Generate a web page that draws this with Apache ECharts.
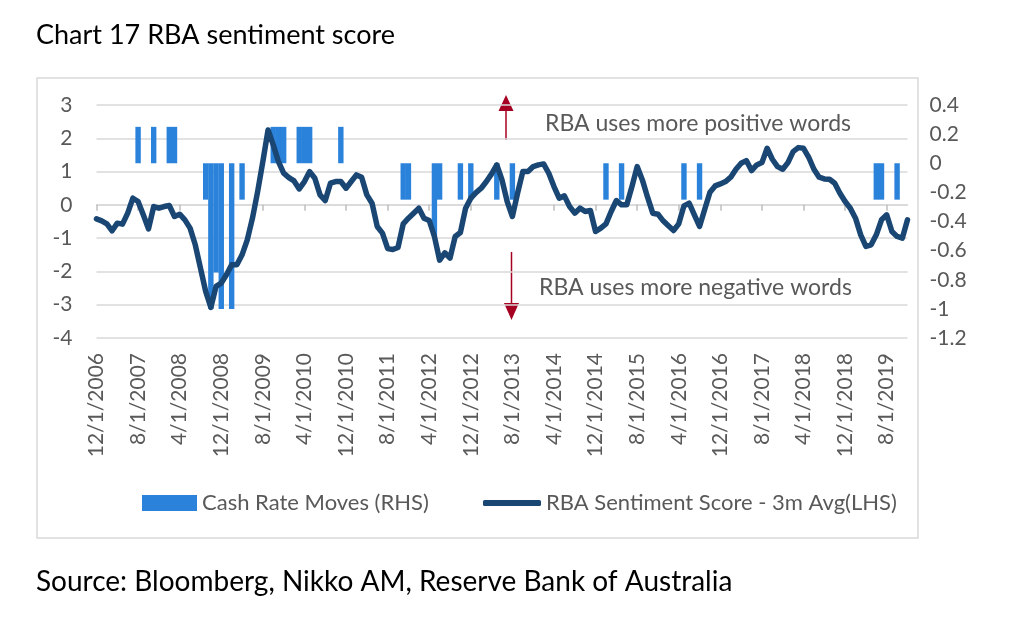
<!DOCTYPE html>
<html>
<head>
<meta charset="utf-8">
<script src="https://cdn.jsdelivr.net/npm/echarts@6/dist/echarts.min.js"></script>
<style>
  html, body { margin: 0; padding: 0; background: #fff; }
  #chart { width: 1024px; height: 622px; }
</style>
</head>
<body>
<div id="chart"></div>
<script>
// monthly categories, Dec 2006 .. Dec 2019
const startYear = 2006
const startMonth = 12
const monthCount = 157
const months = []
for (let i = 0; i < monthCount; i++) {
  let m = (startMonth - 1 + i) % 12 + 1
  let y = startYear + Math.floor((startMonth - 1 + i) / 12)
  months.push(m + '/1/' + y)
}

// RBA sentiment score, 3m avg (LHS)
const sentiment = [
  -0.42, -0.48, -0.57, -0.78, -0.55, -0.58, -0.25, 0.2, 0.1, -0.3,
  -0.72, -0.05, -0.1, -0.05, -0.02, -0.35, -0.28, -0.45, -0.7, -1.2,
  -1.9, -2.6, -3.08, -2.45, -2.35, -2.1, -1.8, -1.8, -1.5, -1.05,
  -0.4, 0.4, 1.3, 2.25, 1.8, 1.3, 0.95, 0.82, 0.72, 0.48,
  0.7, 1.0, 0.8, 0.3, 0.13, 0.65, 0.7, 0.7, 0.5, 0.7,
  0.9, 0.83, 0.3, 0.05, -0.65, -0.85, -1.31, -1.34, -1.28, -0.57,
  -0.4, -0.25, -0.1, -0.4, -0.47, -0.95, -1.66, -1.44, -1.6, -0.95,
  -0.83, -0.1, 0.2, 0.37, 0.5, 0.7, 0.93, 1.2, 0.75, 0.1,
  -0.35, 0.35, 1.0, 1.0, 1.15, 1.2, 1.23, 0.95, 0.55, 0.2,
  0.27, -0.05, -0.25, -0.1, -0.2, -0.17, -0.8, -0.7, -0.57, -0.2,
  0.13, 0.0, 0.0, 0.55, 1.15, 0.75, 0.23, -0.25, -0.28, -0.48,
  -0.63, -0.77, -0.57, -0.03, 0.05, -0.3, -0.65, -0.13, 0.38, 0.57,
  0.63, 0.7, 0.83, 1.07, 1.25, 1.33, 1.03, 1.2, 1.27, 1.7,
  1.37, 1.15, 1.07, 1.27, 1.6, 1.72, 1.7, 1.43, 1.07, 0.83,
  0.78, 0.77, 0.65, 0.35, 0.1, -0.1, -0.4, -0.9, -1.25, -1.2,
  -0.9, -0.45, -0.3, -0.8, -0.95, -1.0, -0.45
]

// cash rate moves (RHS), % points
const moveMonths = [
  '8/1/2007', '11/1/2007', '2/1/2008', '3/1/2008',
  '9/1/2008', '10/1/2008', '11/1/2008', '12/1/2008', '2/1/2009', '4/1/2009',
  '10/1/2009', '11/1/2009', '12/1/2009', '3/1/2010', '4/1/2010', '5/1/2010', '11/1/2010',
  '11/1/2011', '12/1/2011', '5/1/2012', '6/1/2012', '10/1/2012', '12/1/2012',
  '5/1/2013', '8/1/2013', '2/1/2015', '5/1/2015', '5/1/2016', '8/1/2016',
  '6/1/2019', '7/1/2019', '10/1/2019'
]
const moveSizes = [
  0.25, 0.25, 0.25, 0.25,
  -0.25, -1.0, -0.75, -1.0, -1.0, -0.25,
  0.25, 0.25, 0.25, 0.25, 0.25, 0.25, 0.25,
  -0.25, -0.25, -0.5, -0.25, -0.25, -0.25,
  -0.25, -0.25, -0.25, -0.25, -0.25, -0.25,
  -0.25, -0.25, -0.25
]

const leftTicks = { min: -4, max: 3, interval: 1 }
const rightTicks = { min: -1.2, max: 0.4, interval: 0.2 }

const cashRate = months.map(() => null)
moveMonths.forEach((m, i) => {
  cashRate[months.indexOf(m)] = moveSizes[i]
})

const font = 'Lato, "Open Sans", sans-serif'
const grey = '#595959'
const arrowRed = '#a50021'
const barBlue = '#2a82da'
const lineBlue = '#1a4674'

const chart = echarts.init(document.getElementById('chart'))

chart.setOption({
  animation: false,
  legend: [
    {
      left: 137,
      top: 487,
      itemWidth: 55,
      itemHeight: 16,
      textStyle: { fontFamily: font, fontSize: 22, color: grey },
      data: [{ name: 'Cash Rate Moves (RHS)', icon: 'rect' }]
    },
    {
      left: 478,
      top: 487,
      itemWidth: 58,
      itemHeight: 6,
      textStyle: { fontFamily: font, fontSize: 22, color: grey },
      data: [{ name: 'RBA Sentiment Score - 3m Avg(LHS)', icon: 'roundRect' }]
    }
  ],
  grid: { left: 96.5, right: 116.5, top: 105, bottom: 284, containLabel: false },
  xAxis: [
    {
      type: 'category',
      data: months,
      boundaryGap: false,
      axisLine: { show: false, onZero: false },
      axisTick: { show: false },
      axisLabel: {
        interval: 7,
        rotate: 90,
        margin: 15,
        fontFamily: font,
        fontSize: 21,
        color: grey
      }
    },
    {
      type: 'category',
      data: months,
      position: 'bottom',
      boundaryGap: false,
      axisLine: { show: true, onZero: true, onZeroAxisIndex: 0, lineStyle: { color: '#d9d9d9', width: 1.5 } },
      axisTick: { show: true, interval: 7, length: 6, lineStyle: { color: '#bfbfbf', width: 1.5 } },
      axisLabel: { show: false },
      splitLine: { show: false }
    }
  ],
  yAxis: [
    {
      type: 'value',
      min: leftTicks.min,
      max: leftTicks.max,
      interval: leftTicks.interval,
      axisLine: { show: false },
      axisTick: { show: false },
      splitLine: { lineStyle: { color: '#d9d9d9', width: 1.5 } },
      axisLabel: { margin: 24, fontFamily: font, fontSize: 21, color: grey }
    },
    {
      type: 'value',
      min: rightTicks.min,
      max: rightTicks.max,
      interval: rightTicks.interval,
      axisLine: { show: false },
      axisTick: { show: false },
      splitLine: { show: false },
      axisLabel: {
        margin: 22,
        fontFamily: font,
        fontSize: 21,
        color: grey,
        formatter: (v) => String(Math.round(v * 10) / 10)
      }
    }
  ],
  series: [
    {
      name: 'Cash Rate Moves (RHS)',
      type: 'bar',
      yAxisIndex: 1,
      data: cashRate,
      barWidth: 5.4,
      itemStyle: { color: barBlue },
      z: 2
    },
    {
      name: 'RBA Sentiment Score - 3m Avg(LHS)',
      type: 'line',
      yAxisIndex: 0,
      data: sentiment,
      symbol: 'none',
      lineStyle: { color: lineBlue, width: 5.5, join: 'round', cap: 'round' },
      itemStyle: { color: lineBlue },
      z: 3
    }
  ],
  graphic: [
    {
      type: 'rect',
      shape: { x: 37, y: 78, width: 881, height: 460 },
      style: { fill: 'none', stroke: '#d9d9d9', lineWidth: 1.5 },
      silent: true
    },
    {
      type: 'line',
      shape: { x1: 506, y1: 140, x2: 506, y2: 108 },
      style: { stroke: arrowRed, lineWidth: 1.5 }
    },
    {
      type: 'polygon',
      shape: { points: [[498.5, 111], [513.5, 111], [506, 95]] },
      style: { fill: arrowRed }
    },
    {
      type: 'line',
      shape: { x1: 511.5, y1: 252, x2: 511.5, y2: 306 },
      style: { stroke: arrowRed, lineWidth: 1.5 }
    },
    {
      type: 'polygon',
      shape: { points: [[504, 303], [519, 303], [511.5, 320]] },
      style: { fill: arrowRed }
    },
    {
      type: 'text',
      x: 545,
      y: 124,
      style: {
        text: 'RBA uses more positive words',
        font: '23px ' + font,
        fill: grey,
        textVerticalAlign: 'middle'
      }
    },
    {
      type: 'text',
      x: 539,
      y: 288,
      style: {
        text: 'RBA uses more negative words',
        font: '23px ' + font,
        fill: grey,
        textVerticalAlign: 'middle'
      }
    },
    {
      type: 'text',
      x: 36,
      y: 35,
      style: {
        text: 'Chart 17 RBA sentiment score',
        font: '27px ' + font,
        fill: '#000',
        textVerticalAlign: 'middle'
      }
    },
    {
      type: 'text',
      x: 36,
      y: 582,
      style: {
        text: 'Source: Bloomberg, Nikko AM, Reserve Bank of Australia',
        font: '28px ' + font,
        fill: '#000',
        textVerticalAlign: 'middle'
      }
    }
  ]
})
</script>
</body>
</html>
